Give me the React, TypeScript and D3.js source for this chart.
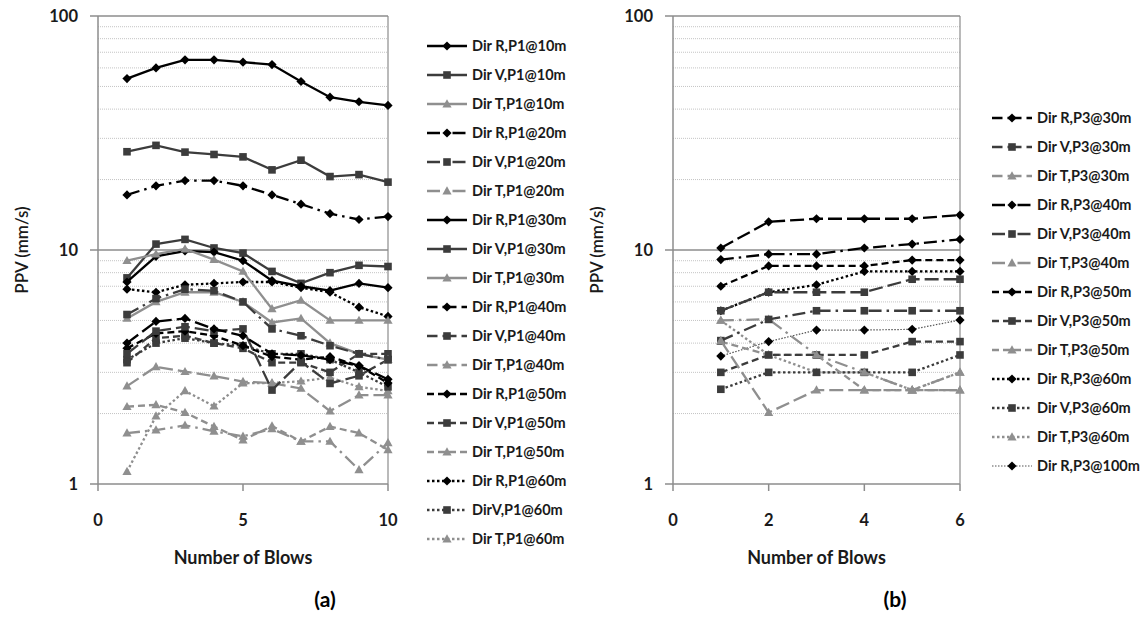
import React from 'react';
import * as d3 from 'd3';

// ---------- data ----------
const blowsA = [1, 2, 3, 4, 5, 6, 7, 8, 9, 10];
const blowsB = [1, 2, 3, 4, 5, 6];
const xTicksA = [0, 5, 10];
const xTicksB = [0, 2, 4, 6];
const yTicks = [1, 10, 100];
const yMinor = [2, 3, 4, 5, 6, 7, 8, 9, 20, 30, 40, 50, 60, 70, 80, 90];

// Panel (a) – P1
const aR10 = [54, 60, 65, 65, 63.5, 62, 52.5, 45, 43, 41.5];
const aV10 = [26.3, 28, 26.2, 25.6, 25, 22, 24.2, 20.6, 21, 19.5];
const aT10 = [9.0, 9.6, 10.1, 9.1, 8.1, 5.6, 6.1, 5.0, 5.0, 5.0];
const aR20 = [17.2, 18.8, 19.8, 19.8, 18.8, 17.2, 15.7, 14.3, 13.5, 13.9];
const aV20 = [5.3, 6.2, 6.8, 6.7, 6.0, 4.6, 4.3, 3.9, 3.6, 3.4];
const aT20 = [1.65, 1.7, 1.78, 1.68, 1.6, 1.72, 1.52, 1.52, 1.15, 1.5];
const aR30 = [7.3, 9.4, 9.9, 9.8, 9.0, 7.4, 7.0, 6.7, 7.2, 6.9];
const aV30 = [7.6, 10.6, 11.1, 10.2, 9.7, 8.1, 7.2, 8.0, 8.6, 8.5];
const aT30 = [5.1, 6.0, 6.6, 6.6, 6.0, 4.9, 5.1, 4.0, 3.6, 3.4];
const aR40 = [4.0, 4.95, 5.1, 4.6, 4.3, 3.6, 3.55, 3.4, 3.2, 2.8];
const aV40 = [3.6, 4.5, 4.7, 4.5, 4.6, 2.52, 3.33, 2.69, 2.9, 3.4];
const aT40 = [2.62, 3.17, 3.02, 2.89, 2.74, 2.7, 2.56, 2.05, 2.4, 2.4];
const aR50 = [3.8, 4.4, 4.5, 4.3, 3.9, 3.5, 3.4, 3.5, 3.2, 2.7];
const aV50 = [3.3, 4.2, 4.3, 4.0, 3.8, 3.3, 3.3, 3.0, 3.6, 3.6];
const aT50 = [2.14, 2.18, 2.02, 1.76, 1.54, 1.77, 1.52, 1.76, 1.65, 1.4];
const aR60 = [6.8, 6.6, 7.1, 7.2, 7.3, 7.3, 6.9, 6.6, 5.7, 5.2];
const aV60 = [3.4, 4.0, 4.2, 4.0, 3.9, 3.6, 3.6, 3.4, 3.0, 2.6];
const aT60 = [1.13, 1.95, 2.5, 2.15, 2.7, 2.7, 2.75, 2.85, 2.6, 2.5];

// Panel (b) – P3
const bR30 = [10.2, 13.2, 13.6, 13.6, 13.6, 14.1];
const bV30 = [5.5, 6.6, 6.6, 6.6, 7.5, 7.5];
const bT30 = [4.1, 2.02, 2.52, 2.52, 2.52, 2.52];
const bR40 = [9.1, 9.6, 9.6, 10.2, 10.6, 11.1];
const bV40 = [4.1, 5.05, 5.5, 5.5, 5.5, 5.5];
const bT40 = [5.0, 5.06, 3.56, 3.0, 2.52, 3.0];
const bR50 = [7.0, 8.55, 8.55, 8.55, 9.06, 9.06];
const bV50 = [3.0, 3.56, 3.56, 3.56, 4.06, 4.06];
const bT50 = [4.06, 3.56, 3.56, 2.52, 2.52, 2.52];
const bR60 = [5.5, 6.6, 7.1, 8.1, 8.1, 8.1];
const bV60 = [2.54, 3.0, 3.0, 3.0, 3.0, 3.56];
const bT60 = [5.0, 3.56, 3.0, 3.0, 2.52, 3.0];
const bR100 = [3.52, 4.06, 4.55, 4.55, 4.58, 5.02];

const labelsA = [
  'Dir R,P1@10m', 'Dir V,P1@10m', 'Dir T,P1@10m',
  'Dir R,P1@20m', 'Dir V,P1@20m', 'Dir T,P1@20m',
  'Dir R,P1@30m', 'Dir V,P1@30m', 'Dir T,P1@30m',
  'Dir R,P1@40m', 'Dir V,P1@40m', 'Dir T,P1@40m',
  'Dir R,P1@50m', 'Dir V,P1@50m', 'Dir T,P1@50m',
  'Dir R,P1@60m', 'DirV,P1@60m', 'Dir T,P1@60m',
];
const labelsB = [
  'Dir R,P3@30m', 'Dir V,P3@30m', 'Dir T,P3@30m',
  'Dir R,P3@40m', 'Dir V,P3@40m', 'Dir T,P3@40m',
  'Dir R,P3@50m', 'Dir V,P3@50m', 'Dir T,P3@50m',
  'Dir R,P3@60m', 'Dir V,P3@60m', 'Dir T,P3@60m',
  'Dir R,P3@100m',
];

const valuesA = [aR10, aV10, aT10, aR20, aV20, aT20, aR30, aV30, aT30, aR40, aV40, aT40, aR50, aV50, aT50, aR60, aV60, aT60];
const valuesB = [bR30, bV30, bT30, bR40, bV40, bT40, bR50, bV50, bT50, bR60, bV60, bT60, bR100];
const dirsA = ['R', 'V', 'T'];
const stylesA = ['solid', 'longDashDot', 'solid', 'longDash', 'dash', 'dot'];
const stylesB = ['longDash', 'longDashDot', 'dash', 'dot', 'thinDot'];

// ---------- styling ----------
const COLORS: Record<string, string> = { R: '#000000', V: '#3c3c3c', T: '#8f8f8f' };
const DASH: Record<string, string | undefined> = {
  solid: undefined,
  longDash: '14,5',
  longDashDot: '13,5,2.5,5',
  dash: '7,4',
  dot: '2.5,2.5',
  thinDot: '1.5,1.5',
};
const LEGEND_OFFSET: Record<string, number> = {
  solid: 0, longDash: 3.5, longDashDot: 0, dash: 0, dot: 0, thinDot: 0,
};
const FONT = 'Lato, "Open Sans", sans-serif';
const AXIS = '#8c8c8c';
const TEXT = '#1a1a1a';

function markerPath(dir: string) {
  if (dir === 'R') return 'M0,-4.6L4.6,0L0,4.6L-4.6,0Z';
  if (dir === 'V') return 'M-3.8,-3.8L3.8,-3.8L3.8,3.8L-3.8,3.8Z';
  return 'M0,-4.8L4.6,3.4L-4.6,3.4Z';
}

type Series = { label: string; values: number[]; dir: string; style: string };

const seriesA: Series[] = labelsA.map((label, i) => ({
  label, values: valuesA[i], dir: dirsA[i % 3], style: stylesA[Math.floor(i / 3)],
}));
const seriesB: Series[] = labelsB.map((label, i) => ({
  label, values: valuesB[i], dir: i === 12 ? 'R' : dirsA[i % 3], style: stylesB[Math.floor(i / 3)],
}));

const Y_TOP = 16;
const Y_BOT = 484;
const yScale = d3.scaleLog().domain([1, 100]).range([Y_BOT, Y_TOP]);

function Panel(props: {
  x0: number; x1: number; xMax: number; xTicks: number[]; xs: number[];
  series: Series[]; legendX: number; legendY: number; tag: string; tagX: number;
}) {
  const { x0, x1, xMax, xTicks, xs, series, legendX, legendY, tag, tagX } = props;
  const x = d3.scaleLinear().domain([0, xMax]).range([x0, x1]);
  const line = d3.line<number>().x((_, i) => x(xs[i])).y((v) => yScale(v));
  const drawOrder = [...series].reverse();
  return (
    <g>
      {yMinor.map((v) => (
        <line key={'m' + v} x1={x0} x2={x1} y1={yScale(v)} y2={yScale(v)}
          stroke="#c4c4c4" strokeWidth={1} strokeDasharray="1,1" />
      ))}
      <line x1={x0} x2={x1} y1={yScale(10)} y2={yScale(10)} stroke={AXIS} strokeWidth={1.5} />
      <line x1={x0} x2={x1} y1={yScale(100)} y2={yScale(100)} stroke={AXIS} strokeWidth={1.5} />
      <line x1={x1} x2={x1} y1={Y_TOP} y2={Y_BOT} stroke={AXIS} strokeWidth={1.2} />
      <line x1={x0} x2={x0} y1={Y_TOP} y2={Y_BOT} stroke={AXIS} strokeWidth={1.5} />
      <line x1={x0} x2={x1} y1={Y_BOT} y2={Y_BOT} stroke={AXIS} strokeWidth={1.5} />
      {yTicks.map((t) => (
        <g key={'yt' + t}>
          <line x1={x0 - 8} x2={x0} y1={yScale(t)} y2={yScale(t)} stroke={AXIS} strokeWidth={1.5} />
          <text x={x0 - 20} y={yScale(t)} dy="0.35em" textAnchor="end" fontFamily={FONT}
            fontWeight="bold" fontSize={16.5} fill={TEXT}>{t}</text>
        </g>
      ))}
      {xTicks.map((t) => (
        <g key={'xt' + t}>
          <line x1={x(t)} x2={x(t)} y1={Y_BOT} y2={Y_BOT + 7} stroke={AXIS} strokeWidth={1.5} />
          <text x={x(t)} y={520} dy="0.35em" textAnchor="middle" fontFamily={FONT}
            fontWeight="bold" fontSize={16.5} fill={TEXT}>{t}</text>
        </g>
      ))}
      <text x={(x0 + x1) / 2} y={558} dy="0.35em" textAnchor="middle" fontFamily={FONT}
        fontSize={18} fontWeight="bold" fill={TEXT}>Number of Blows</text>
      <text transform={`translate(${x0 - 76},${(Y_TOP + Y_BOT) / 2}) rotate(-90)`} dy="0.35em"
        textAnchor="middle" fontFamily={FONT} fontSize={17} fontWeight={600} fill={TEXT}>PPV (mm/s)</text>
      <text x={tagX} y={600} dy="0.35em" textAnchor="middle" fontFamily={FONT}
        fontSize={21} fontWeight="bold" fill="#000">{tag}</text>

      {drawOrder.map((s) => (
        <g key={s.label}>
          <path d={line(s.values) || ''} fill="none" stroke={s.style === 'thinDot' ? '#555' : COLORS[s.dir]}
            strokeWidth={s.style === 'thinDot' ? 1.2 : 2.3} strokeDasharray={DASH[s.style]} />
          {s.values.map((v, i) => (
            <path key={i} d={markerPath(s.dir)} transform={`translate(${x(xs[i])},${yScale(v)})`}
              fill={COLORS[s.dir]} />
          ))}
        </g>
      ))}

      {series.map((s, i) => {
        const cy = legendY + i * 29;
        return (
          <g key={'lg' + s.label}>
            <line x1={legendX} x2={legendX + 40} y1={cy} y2={cy}
              stroke={s.style === 'thinDot' ? '#555' : COLORS[s.dir]}
              strokeWidth={s.style === 'thinDot' ? 1.2 : 2.3} strokeDasharray={DASH[s.style]}
              strokeDashoffset={LEGEND_OFFSET[s.style]} />
            <path d={markerPath(s.dir)} transform={`translate(${legendX + 20},${cy})`} fill={COLORS[s.dir]} />
            <text x={legendX + 45} y={cy} dy="0.35em" fontFamily={FONT} fontSize={14.5}
              fontWeight="bold" fill={TEXT}>{s.label}</text>
          </g>
        );
      })}
    </g>
  );
}

export default function App() {
  return (
    <svg width={1145} height={617} viewBox="0 0 1145 617"
      style={{ position: 'absolute', left: 0, top: 0, background: '#fff' }}>
      <rect x={0} y={0} width={1145} height={617} fill="#fff" />
      <Panel x0={98} x1={388} xMax={10} xTicks={xTicksA} xs={blowsA} series={seriesA}
        legendX={427} legendY={46} tag="(a)" tagX={325} />
      <Panel x0={673} x1={960} xMax={6} xTicks={xTicksB} xs={blowsB} series={seriesB}
        legendX={992} legendY={118} tag="(b)" tagX={895} />
    </svg>
  );
}
